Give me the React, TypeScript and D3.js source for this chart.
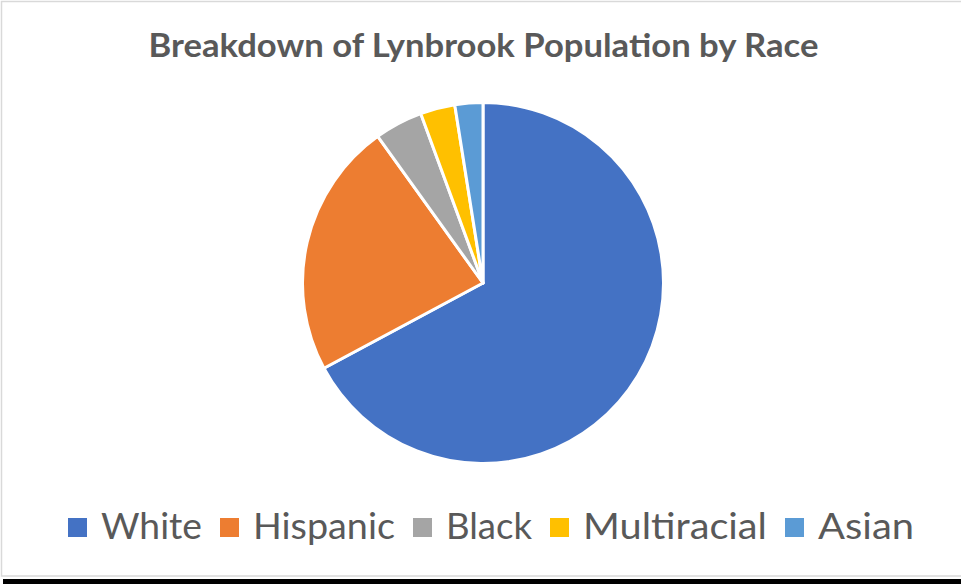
import React from "react";
import * as d3 from "d3";

const categories = ["White", "Hispanic", "Black", "Multiracial", "Asian"];
const values = [67.1, 22.9, 4.3, 3.1, 2.5];
const colors = ["#4472C4", "#ED7D31", "#A5A5A5", "#FFC000", "#5B9BD5"];
const title = "Breakdown of Lynbrook Population by Race";

const W = 961;
const H = 584;
const cx = 483;
const cy = 283;
const R = 180.5;
// legend text widths as rendered in reference
const legendWidths = [101, 142, 86, 184, 96];

export default function App() {
  const data = categories.map((c, i) => ({ c, v: values[i], color: colors[i] }));
  const pie = d3.pie<any>().value((d: any) => d.v).sort(null);
  const arc = d3.arc<any>().innerRadius(0).outerRadius(R);
  const arcs = pie(data);

  const sq = 19;
  const gapSqText = 14;
  const gapItem = 18;
  let x = 68;
  const legendItems = data.map((d, i) => {
    const item = { ...d, sx: x, tx: x + sq + gapSqText, w: legendWidths[i] };
    x = item.tx + item.w + gapItem;
    return item;
  });

  return (
    <svg
      width={W}
      height={H}
      style={{ position: "fixed", left: 0, top: 0, background: "#fff" }}
    >
      <rect x={0} y={0} width={W} height={H} fill="#fff" />
      <rect
        x={1.5}
        y={1.5}
        width={W + 10}
        height={574.5}
        fill="none"
        stroke="#d9d9d9"
        strokeWidth={1.5}
      />
      <rect x={3} y={579} width={W - 3} height={5} fill="#000" />
      <text
        x={483.5}
        y={57}
        textAnchor="middle"
        fontFamily="Lato, 'Open Sans', sans-serif"
        fontWeight="bold"
        fontSize={32}
        fill="#595959"
        textLength={670}
        lengthAdjust="spacingAndGlyphs"
      >
        {title}
      </text>
      <g transform={`translate(${cx},${cy})`}>
        {arcs.map((a, i) => (
          <path
            key={i}
            d={arc(a) as string}
            fill={a.data.color}
            stroke="#fff"
            strokeWidth={3}
            strokeLinejoin="round"
          />
        ))}
      </g>
      <g>
        {legendItems.map((d, i) => (
          <g key={i}>
            <rect x={d.sx} y={518} width={sq} height={sq} fill={d.color} />
            <text
              x={d.tx}
              y={539}
              fontFamily="Lato, 'Open Sans', sans-serif"
              fontSize={36}
              fill="#595959"
              textLength={d.w}
              lengthAdjust="spacingAndGlyphs"
            >
              {d.c}
            </text>
          </g>
        ))}
      </g>
    </svg>
  );
}
